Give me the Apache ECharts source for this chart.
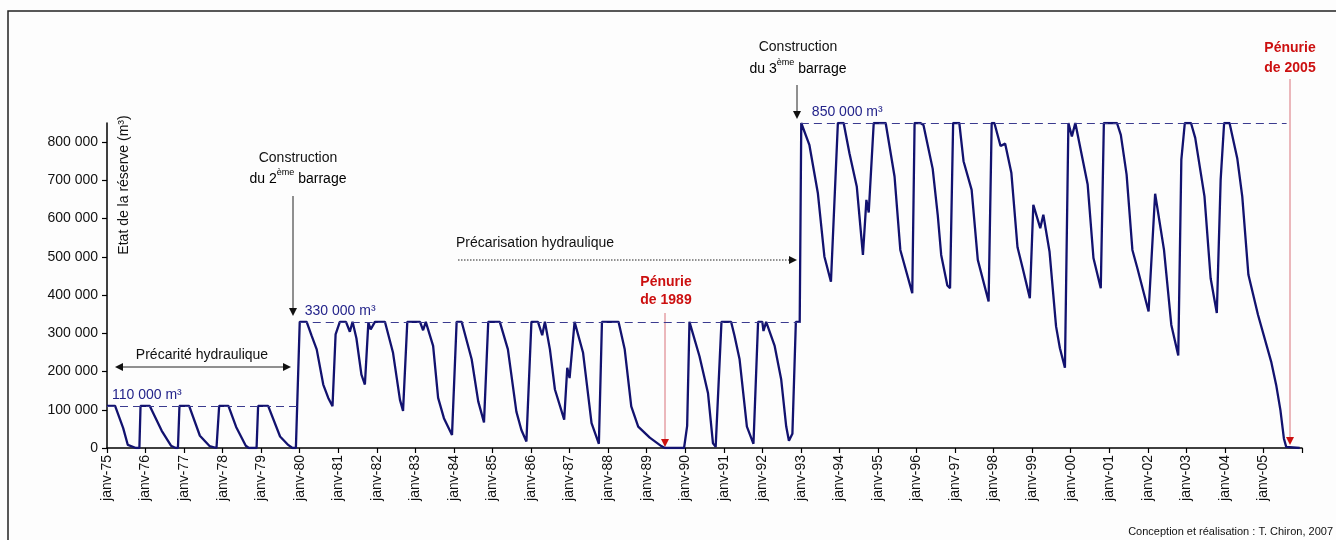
<!DOCTYPE html>
<html>
<head>
<meta charset="utf-8">
<title>Etat de la réserve</title>
<script src="https://cdn.jsdelivr.net/npm/echarts@6/dist/echarts.min.js"></script>
<style>
  html, body { margin: 0; padding: 0; background: #fdfdfd; }
  #chart-container { width: 1336px; height: 540px; }
</style>
</head>
<body>
<div id="chart-container"></div>
<script>
// dates en années décimales, réserve en m3
const datesPhase1 = [1975.0, 1975.21, 1975.42, 1975.54, 1975.75, 1975.84, 1975.87,
  1976.11, 1976.42, 1976.66, 1976.78, 1976.84, 1976.88,
  1977.13, 1977.41, 1977.66, 1977.84, 1977.88, 1977.91,
  1978.15, 1978.35, 1978.60, 1978.68, 1978.88, 1978.92,
  1979.18, 1979.49, 1979.70, 1979.81, 1979.90];
const reservePhase1 = [110000, 110000, 52000, 8000, 0, 0, 110000,
  110000, 45000, 6000, 0, 0, 110000,
  110000, 32000, 5000, 0, 0, 110000,
  110000, 55000, 6000, 0, 0, 110000,
  110000, 30000, 8000, 0, 0];

const datesPhase2 = [1980.0, 1980.18, 1980.31, 1980.44, 1980.61, 1980.74, 1980.85, 1980.93,
  1981.04, 1981.20, 1981.30, 1981.37, 1981.47, 1981.60, 1981.69, 1981.78, 1981.84, 1981.95,
  1982.21, 1982.42, 1982.60, 1982.68, 1982.79,
  1983.12, 1983.20, 1983.27, 1983.46, 1983.59, 1983.74, 1983.95, 1984.07,
  1984.20, 1984.46, 1984.63, 1984.78, 1984.89,
  1985.19, 1985.40, 1985.62, 1985.75, 1985.88, 1986.01,
  1986.18, 1986.29, 1986.36, 1986.49, 1986.62, 1986.86, 1986.94, 1987.0, 1987.13,
  1987.35, 1987.57, 1987.76, 1987.84,
  1988.27, 1988.43, 1988.60, 1988.78, 1989.08, 1989.38, 1989.47, 1989.97, 1990.05, 1990.11,
  1990.37, 1990.59, 1990.72, 1990.79, 1990.94,
  1991.19, 1991.28, 1991.41, 1991.60, 1991.77, 1991.89,
  1992.0, 1992.03, 1992.10, 1992.32, 1992.49, 1992.62, 1992.69, 1992.78, 1992.87, 1992.97];
const reservePhase2 = [330000, 330000, 293000, 258000, 166000, 131000, 109000, 297000,
  330000, 330000, 304000, 330000, 287000, 192000, 166000, 328000, 310000, 330000,
  330000, 249000, 126000, 97000, 330000,
  330000, 308000, 330000, 267000, 131000, 78000, 34000, 330000,
  330000, 232000, 122000, 67000, 330000,
  330000, 258000, 95000, 47000, 17000, 330000,
  330000, 295000, 330000, 258000, 153000, 74000, 210000, 183000, 330000,
  249000, 65000, 11000, 330000,
  330000, 258000, 109000, 56000, 27000, 5000, 0, 0, 58000, 330000,
  240000, 144000, 12000, 3000, 330000,
  330000, 293000, 232000, 56000, 11000, 330000,
  330000, 306000, 330000, 267000, 179000, 56000, 19000, 37000, 330000, 330000];

const datesPhase3 = [1993.01, 1993.22, 1993.44, 1993.61, 1993.78, 1993.96,
  1994.11, 1994.26, 1994.45, 1994.61, 1994.70, 1994.76, 1994.89,
  1995.20, 1995.43, 1995.58, 1995.89, 1995.95,
  1996.10, 1996.18, 1996.42, 1996.55, 1996.64, 1996.80, 1996.87, 1996.95,
  1997.11, 1997.22, 1997.43, 1997.59, 1997.87, 1997.95,
  1998.02, 1998.18, 1998.30, 1998.46, 1998.62, 1998.75, 1998.94,
  1999.03, 1999.21, 1999.29, 1999.45, 1999.62, 1999.72, 1999.85, 1999.94,
  2000.03, 2000.12, 2000.44, 2000.59, 2000.78, 2000.86,
  2001.20, 2001.30, 2001.45, 2001.60, 2001.73, 2002.02, 2002.19, 2002.42, 2002.61, 2002.79,
  2002.87, 2002.96, 2003.12, 2003.23, 2003.47, 2003.63, 2003.79, 2003.89, 2003.98,
  2004.12, 2004.32, 2004.45, 2004.61, 2004.86, 2005.20, 2005.33, 2005.44, 2005.53, 2005.59, 2005.94];
const reservePhase3 = [850000, 793000, 667000, 501000, 435000, 850000,
  850000, 771000, 684000, 505000, 649000, 616000, 850000,
  850000, 710000, 518000, 405000, 850000,
  850000, 845000, 730000, 610000, 505000, 425000, 418000, 850000,
  850000, 750000, 675000, 492000, 383000, 850000,
  850000, 790000, 796000, 720000, 525000, 472000, 392000,
  636000, 575000, 610000, 514000, 318000, 261000, 210000, 850000,
  815000, 850000, 689000, 497000, 418000, 850000,
  850000, 819000, 715000, 518000, 470000, 357000, 665000, 518000, 322000, 242000,
  754000, 850000, 850000, 811000, 658000, 444000, 353000, 702000, 850000,
  850000, 758000, 658000, 453000, 348000, 226000, 165000, 99000, 25000, 3000, 0];

// capacité de la réserve selon les barrages
const capaciteDebut = [1975, 1980, 1993];
const capaciteFin = [1980, 1993, 2005.6];
const capacites = [110000, 330000, 850000];
const capaciteLabels = ['110 000 m³', '330 000 m³', '850 000 m³'];

const yTicks = [0, 100000, 200000, 300000, 400000, 500000, 600000, 700000, 800000];

const navy = '#12126f';
const font = 'Arial, "Liberation Sans", sans-serif';

const toPairs = (d, v) => d.map((t, i) => [t, v[i]]);
let serie = []
  .concat(toPairs(datesPhase1, reservePhase1))
  .concat(toPairs(datesPhase2, reservePhase2))
  .concat(toPairs(datesPhase3, reservePhase3));

let markData = capacites.map((c, i) => [
  { coord: [capaciteDebut[i], c], label: { formatter: capaciteLabels[i], distance: [i === 2 ? 11 : 5, 4] } },
  { coord: [capaciteFin[i], c] }
]);

function fmt(v) {
  return String(v).replace(/\B(?=(\d{3})+(?!\d))/g, ' ');
}

// petite flèche (triangle) en pixels
function arrowHead(x, y, dir, color) {
  let s = 4, l = 8, pts;
  if (dir === 'down') pts = [[x - s, y - l], [x + s, y - l], [x, y]];
  else if (dir === 'left') pts = [[x + l, y - s], [x + l, y + s], [x, y]];
  else pts = [[x - l, y - s], [x - l, y + s], [x, y]];
  return { type: 'polygon', shape: { points: pts }, style: { fill: color }, silent: true };
}
function seg(x1, y1, x2, y2, color, dash) {
  return {
    type: 'line', shape: { x1: x1, y1: y1, x2: x2, y2: y2 },
    style: { stroke: color, lineWidth: 1, lineDash: dash || null }, silent: true
  };
}
function txt(x, y, text, opts, rotation) {
  return {
    type: 'text', x: x, y: y, rotation: rotation || 0, silent: true,
    style: Object.assign({
      text: text, font: '14px ' + font, fill: '#111',
      textAlign: 'center', textVerticalAlign: 'middle'
    }, opts || {})
  };
}
function supText(x, y, before, sup, after) {
  return {
    type: 'text', x: x, y: y, silent: true,
    style: {
      text: '{a|' + before + '}{s|' + sup + '}{a|' + after + '}',
      align: 'center', verticalAlign: 'middle',
      rich: {
        a: { fontSize: 14, fontFamily: font, color: '#111', lineHeight: 18, verticalAlign: 'bottom' },
        s: { fontSize: 9, fontFamily: font, color: '#111', lineHeight: 18, verticalAlign: 'top' }
      }
    }
  };
}

const red = '#cc1010';
const redLine = '#d9737a';

let element = document.getElementById('chart-container');
let myChart = echarts.init(element, null, { renderer: 'canvas' });

let option = {
  animation: false,
  backgroundColor: '#fdfdfd',
  grid: { left: 107, right: 34, top: 123, bottom: 92 },
  xAxis: {
    type: 'value',
    min: 1975,
    max: 2006,
    interval: 1,
    axisLine: { lineStyle: { color: '#000', width: 1.5 } },
    axisTick: { length: 5, lineStyle: { color: '#000', width: 1.2 } },
    splitLine: { show: false },
    axisLabel: {
      rotate: 90,
      margin: 7,
      color: '#111',
      fontSize: 14,
      fontFamily: font,
      formatter: (v) => (v < 2006 ? 'janv-' + String(v).slice(2) : '')
    }
  },
  yAxis: {
    type: 'value',
    min: 0,
    max: 850000,
    interval: 100000,
    axisLine: { show: true, lineStyle: { color: '#000', width: 1.5 } },
    axisTick: { show: true, length: 5, customValues: yTicks, lineStyle: { color: '#000', width: 1.2 } },
    splitLine: { show: false },
    axisLabel: {
      customValues: yTicks,
      margin: 9,
      color: '#111',
      fontSize: 14,
      fontFamily: font,
      formatter: (v) => fmt(v)
    }
  },
  series: [
    {
      name: 'Etat de la réserve',
      type: 'line',
      data: serie,
      showSymbol: false,
      lineStyle: { color: navy, width: 2.3 },
      itemStyle: { color: navy },
      markLine: {
        silent: true,
        symbol: ['none', 'none'],
        lineStyle: { color: '#3b3b8f', width: 1.2, type: [8, 5] },
        label: {
          show: true,
          position: 'insideStartTop',
          distance: [5, 4],
          color: '#23238a',
          fontSize: 14,
          fontFamily: font
        },
        data: markData
      }
    }
  ],
  graphic: [
    // cadre
    { type: 'rect', shape: { x: 8, y: 11, width: 1340, height: 540 }, style: { fill: null, stroke: '#222', lineWidth: 1.5 }, silent: true },
    // titre de l'axe (vertical)
    txt(124, 185, 'Etat de la réserve (m³)', null, Math.PI / 2),
    // 2e barrage
    txt(298, 158, 'Construction'),
    supText(298, 177, 'du 2', 'ème', ' barrage'),
    seg(293, 196, 293, 310, '#222'),
    arrowHead(293, 316, 'down', '#111'),
    // précarité
    txt(202, 355, 'Précarité hydraulique'),
    seg(121, 367, 285, 367, '#222'),
    arrowHead(115, 367, 'left', '#111'),
    arrowHead(291, 367, 'right', '#111'),
    // précarisation
    txt(535, 243, 'Précarisation hydraulique'),
    seg(458, 260, 791, 260, '#222', [1.5, 1.5]),
    arrowHead(797, 260, 'right', '#111'),
    // 3e barrage
    txt(798, 47, 'Construction'),
    supText(798, 67, 'du 3', 'ème', ' barrage'),
    seg(797, 85, 797, 113, '#222'),
    arrowHead(797, 119, 'down', '#111'),
    // pénurie 1989
    txt(666, 282, 'Pénurie', { font: 'bold 14px ' + font, fill: red }),
    txt(666, 300, 'de 1989', { font: 'bold 14px ' + font, fill: red }),
    seg(665, 313, 665, 440, redLine),
    arrowHead(665, 447, 'down', red),
    // pénurie 2005
    txt(1290, 48, 'Pénurie', { font: 'bold 14px ' + font, fill: red }),
    txt(1290, 68, 'de 2005', { font: 'bold 14px ' + font, fill: red }),
    seg(1290, 79, 1290, 438, redLine),
    arrowHead(1290, 445, 'down', red),
    // crédits
    txt(1333, 532, 'Conception et réalisation : T. Chiron, 2007', { font: '11px ' + font, textAlign: 'right' })
  ]
};
option && myChart.setOption(option);
window.addEventListener('resize', myChart.resize);
</script>
</body>
</html>
